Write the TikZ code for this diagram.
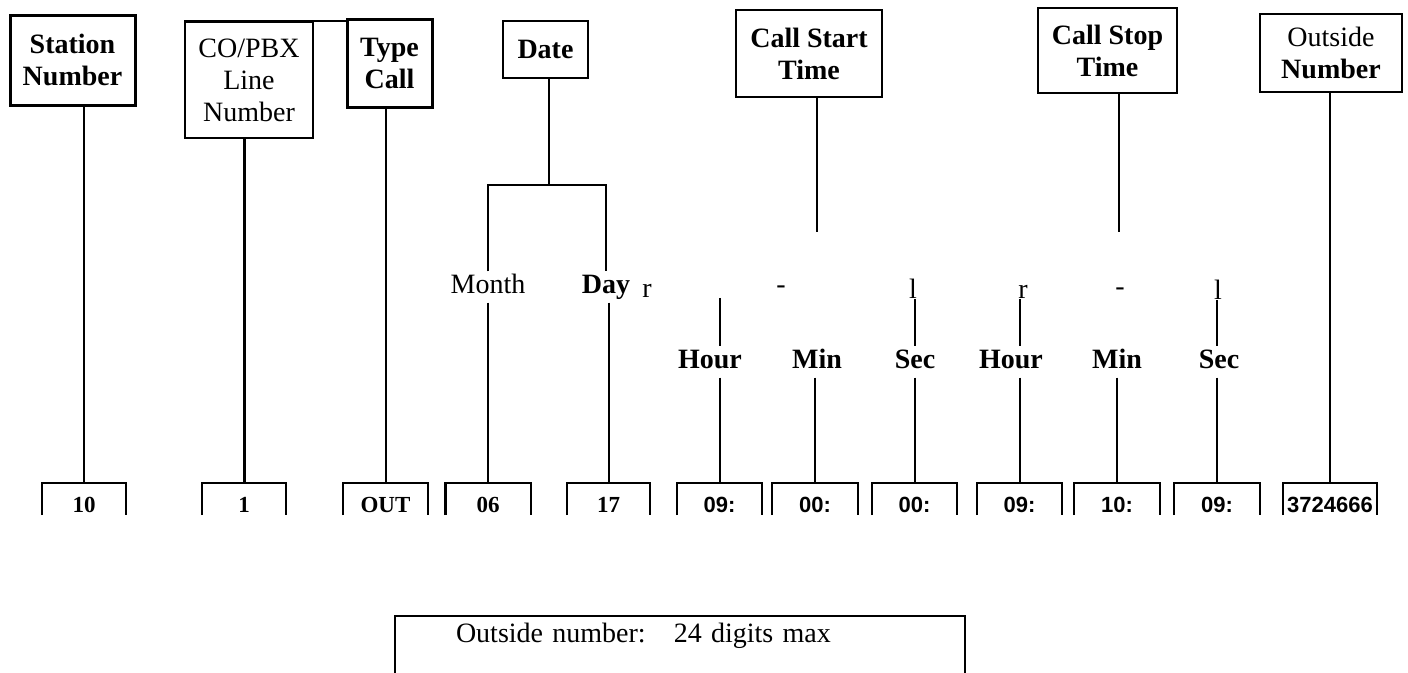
\documentclass[tikz,border=0pt]{standalone}
\usepackage{fontspec}
\setmainfont{Liberation Serif}
\setsansfont{Liberation Sans}
\usetikzlibrary{positioning}

\begin{document}
\begin{tikzpicture}[x=1pt, y=-1pt,
                head/.style={draw, line width=1.8pt, inner sep=0pt, align=center, font=\fontsize{28}{32}\selectfont},
                headbold/.style={head, font=\fontsize{28}{32}\selectfont\bfseries},
                lbl/.style={inner sep=0pt, inner ysep=3pt, text height=19pt, text depth=6pt, font=\fontsize{28}{32}\selectfont},
                lblbold/.style={lbl, font=\fontsize{28}{32}\selectfont\bfseries},
                glyph/.style={inner sep=0pt, font=\fontsize{28}{32}\selectfont},
                slot/.style={inner sep=0pt, inner ysep=3pt, text height=26pt, text depth=0pt, minimum height=32pt},
                slotline/.style={line width=2.4pt},
                wire/.style={line width=2pt}
            ]

            \useasboundingbox (0,0) rectangle (1408,672);

            % field headings
            \node[headbold, line width=3pt, minimum width=125pt, minimum height=90pt] (station) at (72.5,60) {Station\\Number};
            \node[head, minimum width=128pt, minimum height=116pt] (copbx) at (249,80) {CO/PBX\\Line\\Number};
            \node[headbold, line width=3pt, minimum width=85pt, minimum height=88pt] (typecall) at (389.5,63) {Type\\Call};
            \node[headbold, minimum width=85pt, minimum height=57pt] (date) at (545.5,49.5) {Date};
            \node[headbold, minimum width=146pt, minimum height=87pt] (cstart) at (809,53.5) {Call Start\\Time};
            \node[headbold, minimum width=139pt, minimum height=85pt] (cstop) at (1107.5,50.5) {Call Stop\\Time};
            \node[head, minimum width=142pt, minimum height=78pt] (outnum) at (1331,53) {Outside\\\textbf{Number}};

            \draw[line width=1.8pt] (copbx.north west) -- (typecall.west |- copbx.north);

            % record fields
            \foreach \name/\x/\w/\val in {v10/84/84/10, v1/244/84/1, vout/385.5/85/OUT, v06/488/85/06, v17/608.5/83/17}{
                \node[slot, minimum width=\w*1pt, font=\fontsize{23}{28}\selectfont\bfseries] (\name) at (\x,499) {\val};
                \draw[slotline] (\name.south west) |- (\name.north east) -- (\name.south east);
            }
            \foreach \name/\x/\w/\val in {sh/719.5/85/09:, sm/815/86/00:, ss/914.5/85/00:, eh/1019.5/85/09:, em/1117/86/10:, es/1217/86/09:, vnum/1330/94/3724666}{
                \node[slot, minimum width=\w*1pt, font=\fontsize{22}{26}\selectfont\sffamily\bfseries] (\name) at (\x,499) {\val};
                \draw[slotline] (\name.south west) |- (\name.north east) -- (\name.south east);
            }

            \draw[wire] (v10.north |- station.south) -- (v10.north);
            \draw[wire, line width=3pt] (v1.north |- copbx.south) -- (v1.north);
            \draw[wire] (vout.north |- typecall.south) -- (vout.north);
            \draw[wire] (vnum.north |- outnum.south) -- (vnum.north);

            % date split
            \node[lbl] (month) at (488,287) {Month};
            \node[lblbold] (day) at (606,287) {Day};
            \coordinate (fork) at (549,185);
            \draw[wire] (date.south -| fork) -- (fork);
            \draw[wire] (month.north) |- (fork) -| (day.north);
            \draw[wire] (v06.north |- month.south) -- (v06.north);
            \draw[wire] (v17.north |- day.south) -- (v17.north);

            % start and stop times
            \coordinate (cstart end) at (817,232);
            \coordinate (cstop end) at (1119,232);
            \draw[wire] (cstart.south -| cstart end) -- (cstart end);
            \draw[wire] (cstop.south -| cstop end) -- (cstop end);

            \node[glyph] (r1) at (647,291) {r};
            \node[glyph] (d1) at (781,290) {-};
            \node[glyph] (l1) at (913,289) {l};
            \node[glyph] (r2) at (1023,292) {r};
            \node[glyph] (d2) at (1120,292) {-};
            \node[glyph] (l2) at (1218,290) {l};

            \node[lblbold] (hour1) at (710,362) {Hour};
            \node[lblbold] (min1) at (817,362) {Min};
            \node[lblbold] (sec1) at (915,362) {Sec};
            \node[lblbold] (hour2) at (1011,362) {Hour};
            \node[lblbold] (min2) at (1117,362) {Min};
            \node[lblbold] (sec2) at (1219,362) {Sec};

            \draw[wire] (sh.north |- r1.south) -- (sh.north |- hour1.north);
            \draw[wire] (ss.north |- l1.south) -- (ss.north |- sec1.north);
            \draw[wire] (eh.north |- r2.south) -- (eh.north |- hour2.north);
            \draw[wire] (es.north |- l2.south) -- (es.north |- sec2.north);

            \draw[wire] (sh.north |- hour1.south) -- (sh.north);
            \draw[wire] (sm.north |- min1.south) -- (sm.north);
            \draw[wire] (ss.north |- sec1.south) -- (ss.north);
            \draw[wire] (eh.north |- hour2.south) -- (eh.north);
            \draw[wire] (em.north |- min2.south) -- (em.north);
            \draw[wire] (es.north |- sec2.south) -- (es.north);

            % note
            \node[draw, line width=2pt, anchor=north west, inner sep=0pt, text width=570pt, align=left, text height=26pt, text depth=60pt, font=\fontsize{28}{32}\selectfont] (limit) at (394,615) {\hspace*{61pt}Outside number:\quad 24 digits max};

        \end{tikzpicture}
\end{document}
